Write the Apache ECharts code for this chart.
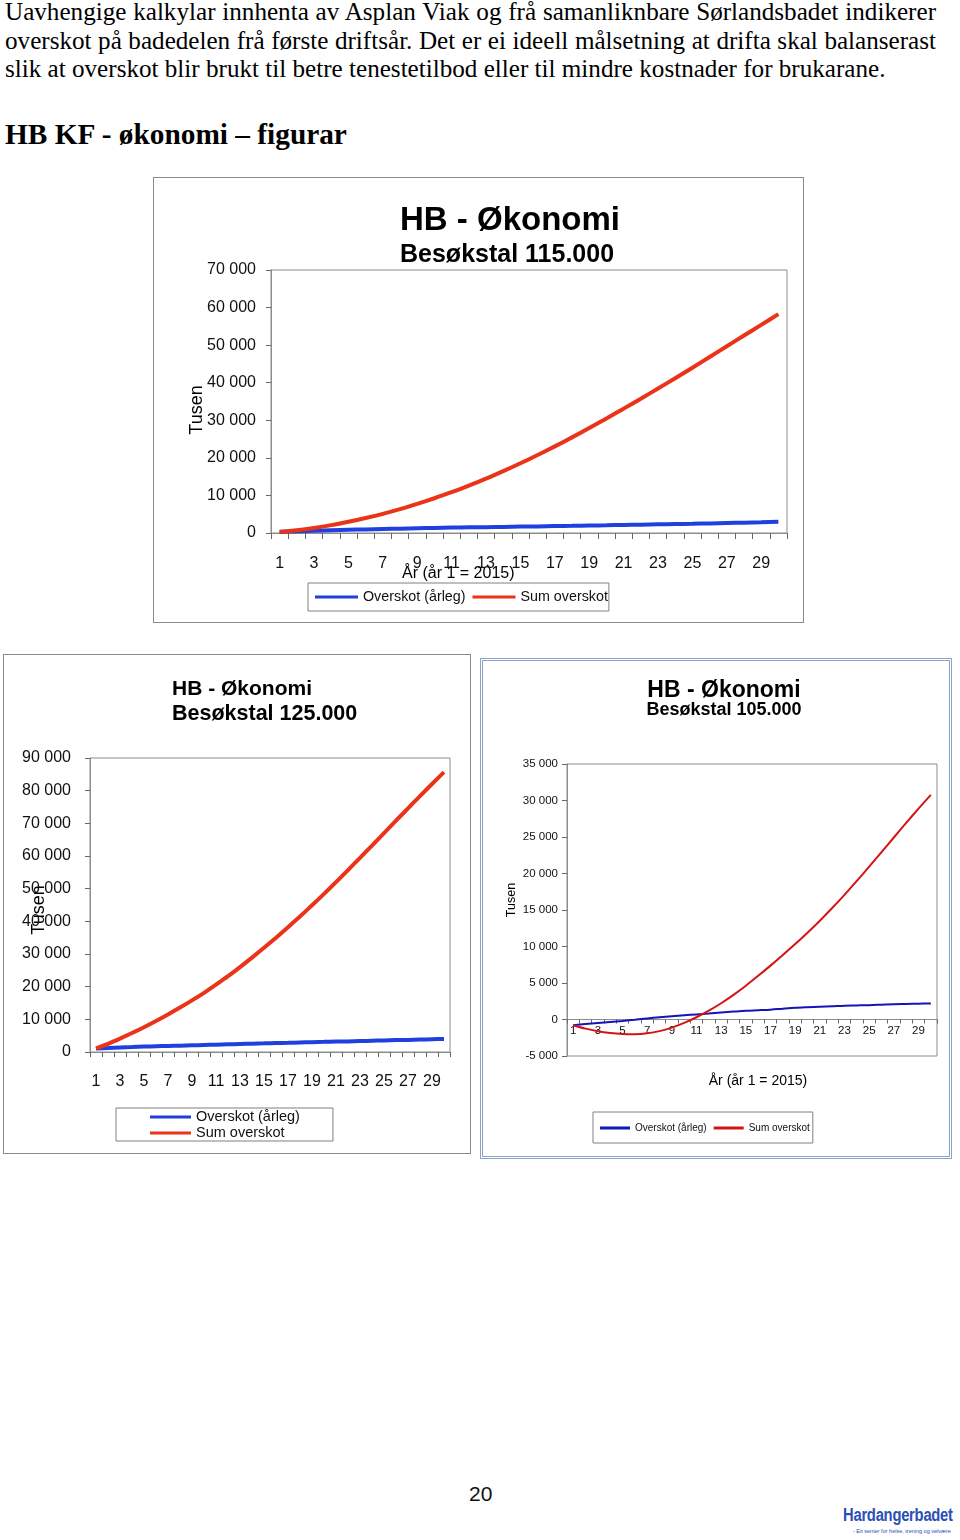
<!DOCTYPE html>
<html>
<head>
<meta charset="utf-8">
<script src="https://cdn.jsdelivr.net/npm/echarts@6/dist/echarts.min.js"></script>
<style>
  body { margin: 0; background: #fff; }
  .page { position: relative; width: 960px; height: 1540px; overflow: hidden; }
  .txt { position: absolute; left: 5px; font-family: 'Liberation Serif', 'Times New Roman', serif; color: #000; white-space: nowrap; }
  .just { width: 931px; text-align: justify; text-align-last: justify; }
  .chart { position: absolute; }
  #c1 { left: 154px; top: 178px; width: 649px; height: 444px; outline: 1px solid #8a8a8a; }
  #c2 { left: 4px; top: 655px; width: 466px; height: 498px; outline: 1px solid #8a8a8a; }
  #c3 { left: 483px; top: 661px; width: 466px; height: 495px; outline: 3px double #8aa3c6; }
  .pnum { position: absolute; left: 469px; top: 1482px; font: 21px 'Liberation Sans', Arial, sans-serif; color: #111; }
  .logo { position: absolute; left: 843px; top: 1505px; font: bold 18px 'Liberation Sans', Arial, sans-serif; color: #2b4fb5;
          letter-spacing: -0.3px; transform: scaleX(0.82); transform-origin: left top; white-space: nowrap; }
  .tag { position: absolute; left: 853px; top: 1528px; font: 5.5px 'Liberation Sans', Arial, sans-serif; color: #2b4fb5; white-space: nowrap; }
</style>
</head>
<body>
<div class="page">
  <div class="txt just body" style="top:-2px;height:28px;line-height:28px;">Uavhengige kalkylar innhenta av Asplan Viak og frå samanliknbare Sørlandsbadet indikerer</div>
  <div class="txt just body" style="top:27px;height:28px;line-height:28px;">overskot på badedelen frå første driftsår. Det er ei ideell målsetning at drifta skal balanserast</div>
  <div class="txt body" id="line3" style="top:55px;height:28px;line-height:28px;">slik at overskot blir brukt til betre tenestetilbod eller til mindre kostnader for brukarane.</div>
  <div class="txt" id="head" style="top:118px;height:32px;line-height:32px;font-weight:bold;">HB KF - økonomi – figurar</div>

  <div class="chart" id="c1"></div>
  <div class="chart" id="c2"></div>
  <div class="chart" id="c3"></div>

  <div class="pnum">20</div>
  <div class="logo">Hardangerbadet</div>
  <div class="tag">- Eit senter for helse, trening og velvære</div>
</div>

<script>
// år 1..30
const years = ['1','2','3','4','5','6','7','8','9','10','11','12','13','14','15',
  '16','17','18','19','20','21','22','23','24','25','26','27','28','29','30'];
const legendNames = ['Overskot (årleg)', 'Sum overskot'];

// Besøkstal 115.000
const blue115 = [300,450,600,750,850,950,1050,1150,1250,1350,1450,1500,1550,1600,1700,
  1750,1850,1900,2000,2050,2150,2200,2300,2400,2450,2550,2650,2750,2850,3000];
const red115 = [300,750,1350,2100,3000,4000,5100,6350,7750,9250,10850,12600,14450,16450,18550,
  20750,23050,25450,27950,30500,33100,35750,38450,41200,44000,46850,49700,52550,55400,58250];

// Besøkstal 125.000
const blue125 = [1100,1250,1400,1500,1650,1750,1850,1950,2050,2150,2250,2350,2450,2550,2650,
  2750,2800,2900,3000,3100,3200,3250,3350,3450,3550,3650,3700,3800,3900,4000];
const red125 = [1100,2500,4100,5800,7600,9500,11500,13600,15800,18100,20600,23200,26000,28900,31900,
  35000,38200,41500,44900,48400,52000,55700,59450,63200,67000,70800,74600,78350,82050,85700];

// Besøkstal 105.000
const blue105 = [-780,-620,-480,-340,-200,-30,150,300,450,580,700,820,950,1080,1200,
  1270,1350,1480,1600,1680,1750,1820,1900,1930,1960,2030,2100,2130,2170,2200];
const red105 = [-780,-1250,-1600,-1840,-1980,-2010,-1890,-1590,-1110,-470,310,1210,2230,3370,4630,
  5980,7380,8830,10330,11880,13530,15280,17080,18980,20930,22930,24930,26930,28880,30780];

// tekst: tilpass skriftstorleik til breidda i originalen
const fit = (el, target) => {
  el.style.fontSize = '24px';
  const w = el.getBoundingClientRect().width;
  return 24 * target / w;
};
const fsBody = fit(document.getElementById('line3'), 881);
document.querySelectorAll('.body').forEach(el => el.style.fontSize = fsBody + 'px');
const head = document.getElementById('head');
head.style.fontSize = fit(head, 342) + 'px';

const FONT = "'Liberation Sans', Arial, sans-serif";
const fmt = v => String(v).replace(/\B(?=(\d{3})+(?!\d))/g, ' ');

const text = (t, x, y, size, opt = {}) => ({
  type: 'text', x: x, y: y, rotation: opt.rot || 0,
  style: {
    text: t, fill: '#000', textAlign: opt.align || 'left', textVerticalAlign: 'middle',
    font: (opt.bold ? 'bold ' : '') + size + 'px ' + FONT,
  },
});

// felles oppsett for dei tre figurane
const makeOption = c => ({
  animation: false,
  grid: { left: c.grid[0], top: c.grid[1], width: c.grid[2], height: c.grid[3], show: true, borderColor: '#8c8c8c', borderWidth: 1 },
  xAxis: {
    type: 'category', data: years, boundaryGap: true, offset: c.xOffset || 0,
    axisLine: { onZero: false, lineStyle: { color: '#8c8c8c', width: 1 } },
    axisTick: { show: true, interval: 0, length: c.tickLen, lineStyle: { color: '#666' } },
    axisLabel: { interval: 1, margin: c.xMargin, fontSize: c.fs, color: '#111', fontFamily: FONT },
  },
  yAxis: {
    type: 'value', min: c.min, max: c.max, interval: c.step,
    axisLine: { show: true, lineStyle: { color: '#8c8c8c' } },
    axisTick: { show: true, length: 5, lineStyle: { color: '#666' } },
    splitLine: { show: false },
    axisLabel: { margin: c.yMargin, fontSize: c.fs, color: '#111', fontFamily: FONT, formatter: fmt, padding: c.yPad || 0 },
  },
  legend: Object.assign({
    data: legendNames, icon: 'rect', borderColor: '#808080', borderWidth: 1,
    textStyle: { fontFamily: FONT, color: '#111', fontSize: c.legendFs },
  }, c.legend),
  series: [
    { name: legendNames[0], type: 'line', data: c.blue, showSymbol: false, smooth: 0.3,
      color: c.colors[0], lineStyle: { width: c.lw, color: c.colors[0] } },
    { name: legendNames[1], type: 'line', data: c.red, showSymbol: false, smooth: 0.3,
      color: c.colors[1], lineStyle: { width: c.lw, color: c.colors[1] } },
  ],
  graphic: c.graphic,
});

const c1 = echarts.init(document.getElementById('c1'));
c1.setOption(makeOption({
  grid: [117, 92, 516, 263], min: 0, max: 70000, step: 10000,
  fs: 16, xMargin: 23, yMargin: 15, yPad: [4, 0, 0, 0], tickLen: 6, lw: 4,
  blue: blue115, red: red115, colors: ['#1f3fde', '#ea3318'],
  legendFs: 14.3,
  legend: { left: 154, top: 405, orient: 'horizontal', itemWidth: 43, itemHeight: 3, itemGap: 7, padding: [7, 1, 7, 7] },
  graphic: [
    text('HB - Økonomi', 246, 43, 33, { bold: true }),
    text('Besøkstal 115.000', 246, 77, 25, { bold: true }),
    text('Tusen', 43, 232, 18, { rot: Math.PI / 2, align: 'center' }),
    text('År (år 1 = 2015)', 248, 396, 16),
  ],
}));

const c2 = echarts.init(document.getElementById('c2'));
c2.setOption(makeOption({
  grid: [86, 103, 360, 294], min: 0, max: 90000, step: 10000,
  fs: 16, xMargin: 22, yMargin: 19, yPad: [4, 0, 0, 0], tickLen: 5, lw: 4,
  blue: blue125, red: red125, colors: ['#1f3fde', '#ea3318'],
  legendFs: 14.5,
  legend: { left: 112, top: 453, orient: 'vertical', itemWidth: 41, itemHeight: 3, itemGap: 0, padding: [1, 33, 0, 34],
    textStyle: { fontFamily: FONT, color: '#111', fontSize: 14.5, lineHeight: 16 } },
  graphic: [
    text('HB - Økonomi', 168, 34, 21, { bold: true }),
    text('Besøkstal 125.000', 168, 59, 21.5, { bold: true }),
    text('Tusen', 35, 255, 18, { rot: Math.PI / 2, align: 'center' }),
  ],
}));

const c3 = echarts.init(document.getElementById('c3'));
c3.setOption(makeOption({
  grid: [84, 103, 370, 292], min: -5000, max: 35000, step: 5000,
  // x-aksen ligg på 0-linja: 1/8 av høgda over botnen
  xOffset: -292 / 8,
  fs: 11.5, xMargin: 5, yMargin: 9, tickLen: 4, lw: 2,
  blue: blue105, red: red105, colors: ['#1414b8', '#d41414'],
  legendFs: 10,
  legend: { left: 110, top: 451, orient: 'horizontal', itemWidth: 30, itemHeight: 3, itemGap: 7, padding: [11, 3, 10, 7] },
  graphic: [
    text('HB - Økonomi', 241, 30, 23, { bold: true, align: 'center' }),
    text('Besøkstal 105.000', 241, 49, 18, { bold: true, align: 'center' }),
    text('Tusen', 29, 239, 12.5, { rot: Math.PI / 2, align: 'center' }),
    text('År (år 1 = 2015)', 275, 420, 14, { align: 'center' }),
  ],
}));
</script>
</body>
</html>
